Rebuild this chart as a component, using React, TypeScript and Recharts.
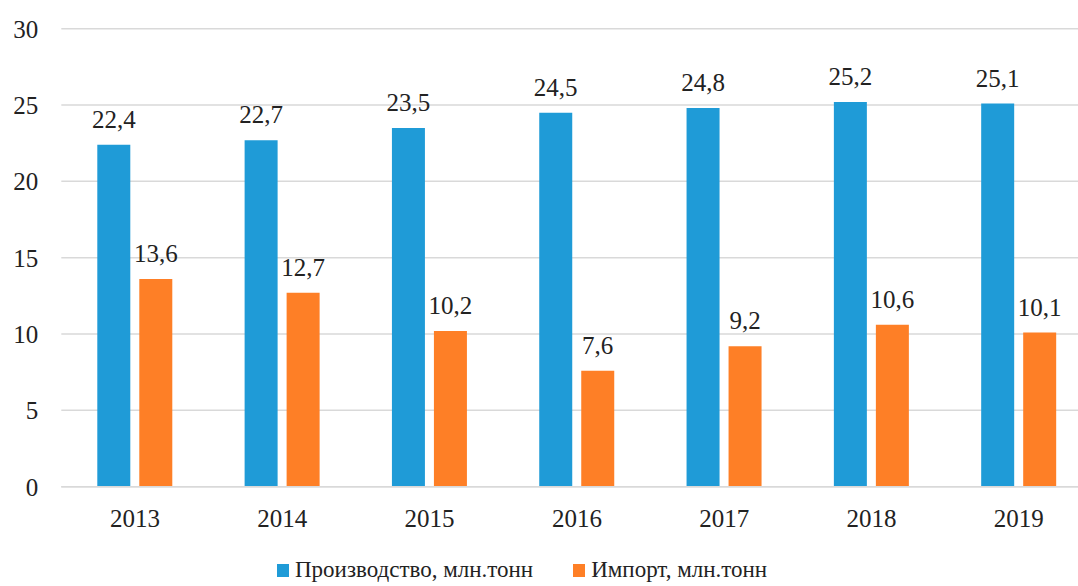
import React from 'react';
import { BarChart, Bar, XAxis, YAxis, CartesianGrid, Legend, LabelList } from 'recharts';

const years = ['2013', '2014', '2015', '2016', '2017', '2018', '2019'];
const production = [22.4, 22.7, 23.5, 24.5, 24.8, 25.2, 25.1];
const imports = [13.6, 12.7, 10.2, 7.6, 9.2, 10.6, 10.1];
const yTicks = [0, 5, 10, 15, 20, 25, 30];
const seriesNames = ['Производство, млн.тонн', 'Импорт, млн.тонн'];
const colors = ['#1F9BD7', '#FE7F26'];

const data = years.map((y, i) => ({ year: y, prod: production[i], imp: imports[i] }));

const FONT = '"Liberation Serif", "Times New Roman", serif';
const TEXT = '#222222';
const FS = 25;
const LEG_FS = 23;

const fmt = (v: any) => String(v).replace('.', ',');

const renderLegend = (props: any) => {
  const payload = [...(props.payload || [])].sort(
    (a: any, b: any) => seriesNames.indexOf(a.value) - seriesNames.indexOf(b.value)
  );
  return (
    <div style={{ display: 'flex', alignItems: 'center', fontFamily: FONT, fontSize: LEG_FS, color: TEXT }}>
      {payload.map((p: any, i: number) => (
        <div key={i} style={{ display: 'flex', alignItems: 'center', marginRight: i === 0 ? 40 : 0 }}>
          <span style={{ display: 'inline-block', width: 12, height: 13, background: p.color, marginRight: 6 }} />
          <span>{p.value}</span>
        </div>
      ))}
    </div>
  );
};

export default function App() {
  return (
    <div style={{ position: 'fixed', left: 0, top: 0, width: 1078, height: 586, overflow: 'hidden', background: '#fff' }}>
      <BarChart
        width={1110}
        height={600}
        data={data}
        margin={{ top: 28.7, right: 17.5, left: 0, bottom: 73.3 }}
        barSize={33}
        barGap={9}
      >
        <CartesianGrid vertical={false} stroke="#d9d9d9" strokeWidth={1.5} />
        <XAxis
          dataKey="year"
          height={40}
          tickLine={false}
          axisLine={{ stroke: '#d9d9d9', strokeWidth: 1.5 }}
          tickSize={0}
          tickMargin={23}
          tick={{ fontFamily: FONT, fontSize: FS, fill: TEXT }}
        />
        <YAxis
          width={61.3}
          domain={[0, 30]}
          ticks={yTicks}
          interval={0}
          tickLine={false}
          axisLine={false}
          tickSize={0}
          tickMargin={23}
          tick={{ fontFamily: FONT, fontSize: FS, fill: TEXT }}
        />
        <Legend
          layout="horizontal"
          verticalAlign="middle"
          align="center"
          content={renderLegend}
          wrapperStyle={{ top: 557, left: 277, width: 'auto' }}
        />
        <Bar dataKey="prod" name={seriesNames[0]} fill={colors[0]} isAnimationActive={false}>
          <LabelList dataKey="prod" position="top" offset={17} formatter={fmt}
            style={{ fontFamily: FONT, fontSize: FS, fill: TEXT }} />
        </Bar>
        <Bar dataKey="imp" name={seriesNames[1]} fill={colors[1]} isAnimationActive={false}>
          <LabelList dataKey="imp" position="top" offset={17} formatter={fmt}
            style={{ fontFamily: FONT, fontSize: FS, fill: TEXT }} />
        </Bar>
      </BarChart>
    </div>
  );
}
